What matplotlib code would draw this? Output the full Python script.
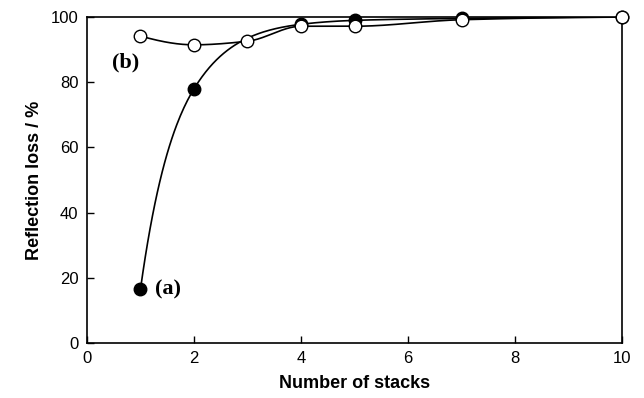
import matplotlib
matplotlib.use("Agg")
import matplotlib.pyplot as plt
import numpy as np

# Reflection loss vs number of stacks
stacks_a = [1, 2, 4, 5, 7, 10]
loss_a = [16.5, 78.0, 97.8, 99.0, 99.6, 100.0]

stacks_b = [1, 2, 3, 4, 5, 7, 10]
loss_b = [94.2, 91.5, 92.6, 97.2, 97.2, 99.2, 100.0]

x_ticks = [0, 2, 4, 6, 8, 10]
y_ticks = [0, 20, 40, 60, 80, 100]


def pchip(x, y, xs):
	"""Shape-preserving cubic interpolation for the smooth guide curves."""
	x = np.asarray(x, float)
	y = np.asarray(y, float)
	h = np.diff(x)
	d = np.diff(y) / h
	n = len(x)
	m = np.zeros(n)
	for k in range(1, n - 1):
		if d[k - 1] * d[k] > 0:
			w1 = 2 * h[k] + h[k - 1]
			w2 = h[k] + 2 * h[k - 1]
			m[k] = (w1 + w2) / (w1 / d[k - 1] + w2 / d[k])
	m[0] = ((2 * h[0] + h[1]) * d[0] - h[0] * d[1]) / (h[0] + h[1])
	if np.sign(m[0]) != np.sign(d[0]):
		m[0] = 0
	m[-1] = ((2 * h[-1] + h[-2]) * d[-1] - h[-1] * d[-2]) / (h[-1] + h[-2])
	if np.sign(m[-1]) != np.sign(d[-1]):
		m[-1] = 0
	idx = np.clip(np.searchsorted(x, xs) - 1, 0, n - 2)
	t = (xs - x[idx]) / h[idx]
	h00 = 2 * t**3 - 3 * t**2 + 1
	h10 = t**3 - 2 * t**2 + t
	h01 = -2 * t**3 + 3 * t**2
	h11 = t**3 - t**2
	return h00 * y[idx] + h10 * h[idx] * m[idx] + h01 * y[idx + 1] + h11 * h[idx] * m[idx + 1]


fig = plt.figure(figsize=(6.44, 3.98), dpi=100)
ax = fig.add_axes([0.135, 0.138, 0.831, 0.819])

xs = np.linspace(1, 10, 400)
# curve (a) interpolated in log(distance from saturation) so it bends like the original
za = np.log(100.5 - np.asarray(loss_a))
curve_a = 100.5 - np.exp(pchip(stacks_a, za, xs))
ax.plot(xs, curve_a, color="black", lw=1.2, zorder=2)
ax.plot(xs, pchip(stacks_b, loss_b, xs), color="black", lw=1.2, zorder=2)
ax.plot(stacks_a, loss_a, "o", ms=9, mfc="black", mec="black", zorder=3, clip_on=False)
ax.plot(stacks_b, loss_b, "o", ms=9, mfc="white", mec="black", mew=1.0, zorder=4, clip_on=False)

ax.text(1.27, 16.3, "(a)", family="Liberation Serif", weight="bold", fontsize=16, va="center")
ax.text(0.47, 86.0, "(b)", family="Liberation Serif", weight="bold", fontsize=16, va="center")

ax.set_xlim(0, 10)
ax.set_ylim(0, 100)
ax.set_xticks(x_ticks)
ax.set_yticks(y_ticks)
ax.tick_params(direction="in", length=5, width=1, labelsize=12, pad=6)
for label in ax.get_xticklabels() + ax.get_yticklabels():
	label.set_family("Liberation Sans")
for spine in ax.spines.values():
	spine.set_linewidth(1.2)

ax.set_xlabel("Number of stacks", family="Liberation Sans", weight="bold", fontsize=13, labelpad=6)
ax.set_ylabel("Reflection loss / %", family="Liberation Sans", weight="bold", fontsize=13, labelpad=6)

fig.savefig("out.png", dpi=100)
